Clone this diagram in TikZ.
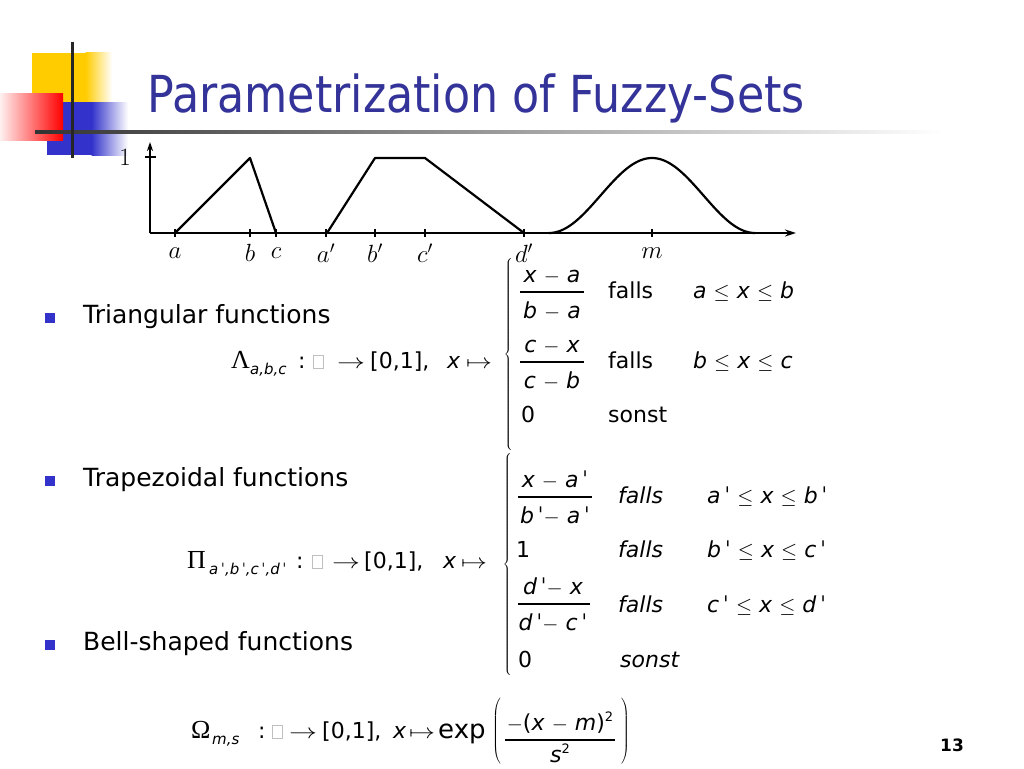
\documentclass[tikz,border=0pt]{standalone}
\usepackage{fontspec}
\usepackage{graphicx}
\setmainfont{DejaVu Sans}
\newfontfamily\titlefont{DejaVu Sans}[FakeStretch=0.87]
\newfontfamily\grk{Liberation Serif}
\usetikzlibrary{arrows.meta}
\definecolor{titleblue}{RGB}{51,51,153}
\definecolor{bulletblue}{RGB}{51,51,204}
\definecolor{logoyellow}{RGB}{255,204,0}
\definecolor{logored}{RGB}{255,0,0}
\newcommand\I[1]{\textit{#1}}
\newcommand\pr{\,ˈ}
\newcommand\mn{\ $-$\ }
\newcommand\lee{\ $\le$\ }
\newcommand\arr{\scalebox{1.35}[1]{$\rightarrow$}}
\newcommand\mapst{\scalebox{1.25}[1]{$\mapsto$}}
\tikzset{
  fm/.style={inner sep=0pt, anchor=base west, font=\fontsize{22}{26}\selectfont},
  fc/.style={inner sep=0pt, anchor=base, font=\fontsize{22}{26}\selectfont},
  greek/.style={inner sep=0pt, anchor=base west, font=\grk\fontsize{26}{28}\selectfont},
  sb/.style={inner sep=0pt, anchor=base west, font=\fontsize{15}{18}\selectfont\itshape},
  bodytext/.style={inner sep=0pt, anchor=base west, font=\fontsize{25}{30}\selectfont},
  bul/.style={fill=bulletblue},
  glab/.style={inner sep=0pt, anchor=center, font=\fontsize{23}{24}\selectfont},
  curve/.style={line width=2.2pt, line join=round},
  axis/.style={line width=1.6pt},
  fbar/.style={line width=1.2pt},
  mbox/.style={draw=gray!50, line width=0.8pt},
  bigdelim/.style={inner sep=0pt, anchor=center, font=\fontsize{16}{18}\selectfont}
}
\begin{document}
\begin{tikzpicture}[x=1pt,y=-1pt]
\useasboundingbox (0,0) rectangle (1024,768);
\fill[white] (0,0) rectangle (1024,768);
% ---- logo ----
\fill[logoyellow] (32,53) rectangle (86,102);
\shade[left color=logoyellow, right color=white] (85.5,53) rectangle (112,102);
\fill[bulletblue] (47,102) rectangle (92,155);
\shade[left color=bulletblue, right color=white] (91.5,102) rectangle (128,155);
\shade[left color=logored!6, right color=logored] (0,93) rectangle (63,140);
\shade[left color=black!80, right color=white] (35,130.5) rectangle (943,133.5);
\fill[black!85] (70.5,42) rectangle (73.5,158);
% ---- title ----
\node[inner sep=0pt, anchor=base west, font=\titlefont\fontsize{51}{56}\selectfont, text=titleblue] (title) at (147,112) {Parametrization of Fuzzy-Sets};
% ---- graph ----
\coordinate (o) at (150,233);
\coordinate (ytop) at (150,142);
\coordinate (xend) at (796,233);
\draw[axis, -{Stealth[length=9pt,width=6pt]}] (o) -- (ytop);
\draw[axis, -{Stealth[length=11pt,width=7pt]}] (o) -- (xend);
\draw[axis] (145,157) -- (156,157);
\node[glab] (one) at (125,157) {$1$};
\foreach \xx/\nm/\lab in {175/la/a, 250/lb/b, 276/lc/c, 326/lap/a', 375/lbp/b', 425/lcp/c', 524/ldp/d', 652/lm/m}{
  \draw[axis] (\xx,229) -- (\xx,237);
  \node[glab] (\nm) at (\xx,253) {$\lab$};
}
\draw[curve] (175,233) -- (250,158) -- (276,233);
\draw[curve] (327,233) -- (375,158) -- (425,158) -- (524,233);
\draw[curve] plot[domain=-103:103, samples=80, smooth] ({652+\x}, {233-37.5*(1+cos(1.74757*\x))});
% ---- bullets ----
\fill[bul] (45,313) rectangle (55,323);
\fill[bul] (45,476) rectangle (55,486);
\fill[bul] (45,640) rectangle (55,650);
\node[bodytext] (t1) at (83,323) {Triangular functions};
\node[bodytext] (t2) at (83,486) {Trapezoidal functions};
\node[bodytext] (t3) at (83,650) {Bell-shaped functions};
% ---- formula 1 ----
\node[greek] (L) at (231,368) {Λ};
\node[sb] (Ls) at (250,374) {a,b,c};
\node[fm] (Lc) at (298,368) {:};
\draw[mbox] (313,355) rectangle (323,368);
\node[fm] (La) at (337,368) {\arr};
\node[fm] (Li) at (370,368) {[0,1],};
\node[fm] (Lx) at (447,368) {\I{x}};
\node[fm] (Lm) at (466,368) {\mapst};
\node[bigdelim] (B1) at (509,354) {$\left\{\vcenter{\hbox{\rule{0pt}{196pt}}}\right.$};
\node[fc] (n1) at (552,282) {\I{x}\mn\I{a}};
\draw[fbar] (520,292) -- (584,292);
\node[fc] (d1) at (552,318) {\I{b}\mn\I{a}};
\node[fm] (c1) at (608,298) {falls};
\node[fm] (r1) at (693,298) {\I{a}\lee\I{x}\lee\I{b}};
\node[fc] (n2) at (552,352) {\I{c}\mn\I{x}};
\draw[fbar] (520,362) -- (584,362);
\node[fc] (d2) at (552,388) {\I{c}\mn\I{b}};
\node[fm] (c2) at (608,368) {falls};
\node[fm] (r2) at (693,368) {\I{b}\lee\I{x}\lee\I{c}};
\node[fm] (z1) at (521,422) {0};
\node[fm] (s1) at (608,422) {sonst};
% ---- formula 2 ----
\node[greek] (P) at (187,568) {Π};
\node[sb] (Ps) at (209,574) {a\pr,b\pr,c\pr,d\pr};
\node[fm] (Pc) at (296,568) {:};
\draw[mbox] (312,555) rectangle (322,568);
\node[fm] (Pa) at (332,568) {\arr};
\node[fm] (Pi) at (364,568) {[0,1],};
\node[fm] (Px) at (443,568) {\I{x}};
\node[fm] (Pm) at (461,568) {\mapst};
\node[bigdelim] (B2) at (508,564) {$\left\{\vcenter{\hbox{\rule{0pt}{222pt}}}\right.$};
\node[fc] (n3) at (555,487) {\I{x}\mn\I{a\pr}};
\draw[fbar] (518,497) -- (592,497);
\node[fc] (d3) at (555,523) {\I{b\pr}$-$\ \I{a\pr}};
\node[fm] (c3) at (618,503) {\I{falls}};
\node[fm] (r3) at (707,503) {\I{a\pr}\lee\I{x}\lee\I{b\pr}};
\node[fm] (o2) at (516,557) {1};
\node[fm] (c4) at (618,557) {\I{falls}};
\node[fm] (r4) at (707,557) {\I{b\pr}\lee\I{x}\lee\I{c\pr}};
\node[fc] (n5) at (553,594) {\I{d\pr}$-$\ \I{x}};
\draw[fbar] (518,604) -- (590,604);
\node[fc] (d5) at (553,630) {\I{d\pr}$-$\ \I{c\pr}};
\node[fm] (c5) at (618,612) {\I{falls}};
\node[fm] (r5) at (707,612) {\I{c\pr}\lee\I{x}\lee\I{d\pr}};
\node[fm] (z2) at (518,667) {0};
\node[fm] (s2) at (620,667) {\I{sonst}};
% ---- formula 3 ----
\node[greek] (O) at (191,738) {Ω};
\node[sb] (Os) at (212,744) {m,s};
\node[fm] (Oc) at (258,738) {:};
\draw[mbox] (272,725) rectangle (282,738);
\node[fm] (Oa) at (289,738) {\arr};
\node[fm] (Oi) at (322,738) {[0,1],};
\node[fm] (Ox) at (393,738) {\I{x}};
\node[fm] (Om) at (409,738) {\mapst};
\node[fm, font=\fontsize{26}{28}\selectfont] (Oe) at (438,738) {exp};
\node[bigdelim] (PL) at (497,731) {$\left(\vcenter{\hbox{\rule{0pt}{68pt}}}\right.$};
\node[fc] (n6) at (560,730) {$-$(\I{x}\mn\I{m})\raisebox{9pt}{\fontsize{13}{14}\selectfont 2}};
\draw[fbar] (505,740) -- (615,740);
\node[fc] (d6) at (560,762) {\I{s}\raisebox{9pt}{\fontsize{13}{14}\selectfont 2}};
\node[bigdelim] (PR) at (625,731) {$\left.\vcenter{\hbox{\rule{0pt}{68pt}}}\right)$};
% ---- page number ----
\node[inner sep=0pt, anchor=base west, font=\bfseries\fontsize{17}{20}\selectfont] (pg) at (940,751) {13};
\end{tikzpicture}
\end{document}
